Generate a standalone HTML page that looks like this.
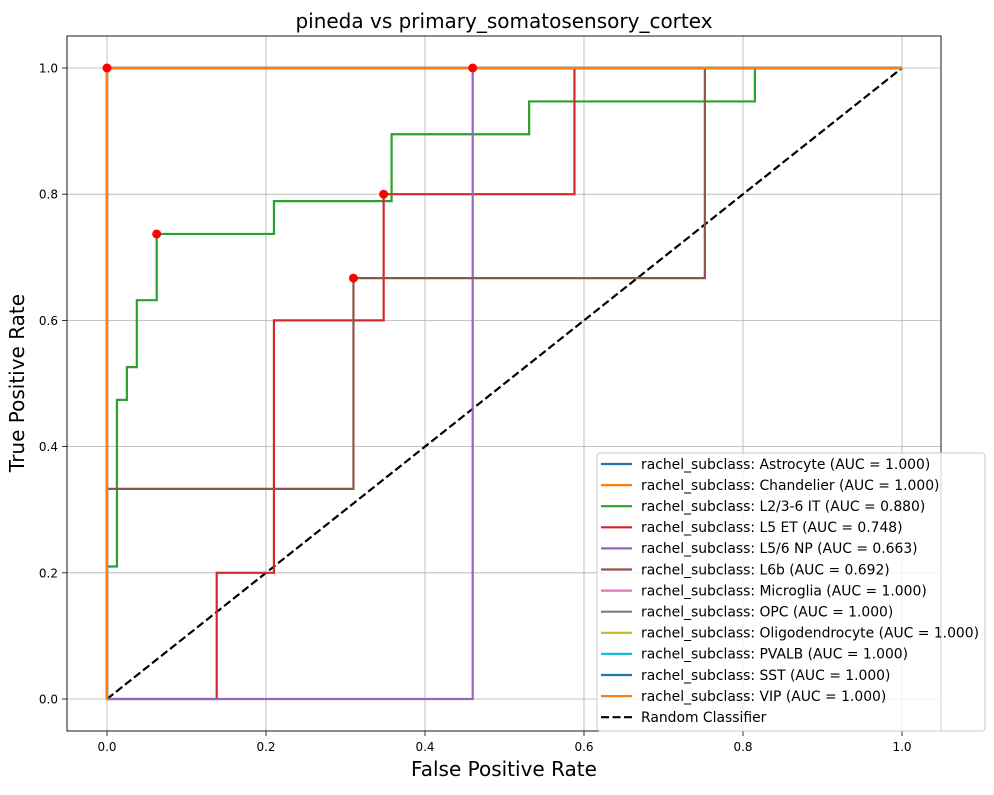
<!DOCTYPE html>
<html><head><meta charset="utf-8"><style>
body{margin:0;background:#fff;}
svg text{font-family:"DejaVu Sans","Liberation Sans",sans-serif;}
</style></head><body>
<svg id="chart" width="994" height="790" xmlns="http://www.w3.org/2000/svg"></svg>
<script>
const seriesNames=["Astrocyte","Chandelier","L2/3-6 IT","L5 ET","L5/6 NP","L6b","Microglia","OPC","Oligodendrocyte","PVALB","SST","VIP"];
const seriesAUC=["1.000","1.000","0.880","0.748","0.663","0.692","1.000","1.000","1.000","1.000","1.000","1.000"];
const seriesColors=["#1f77b4","#ff7f0e","#2ca02c","#d62728","#9467bd","#8c564b","#e377c2","#7f7f7f","#bcbd22","#17becf","#1f77b4","#ff7f0e"];
const perfectFpr=[0,0,1];
const perfectTpr=[0,1,1];
const l23Fpr=[0,0,0.0125,0.0125,0.025,0.025,0.0375,0.0375,0.0625,0.0625,0.21,0.21,0.358,0.358,0.531,0.531,0.815,0.815,1];
const l23Tpr=[0,0.21,0.21,0.474,0.474,0.526,0.526,0.632,0.632,0.737,0.737,0.789,0.789,0.895,0.895,0.947,0.947,1,1];
const l5etFpr=[0,0.138,0.138,0.21,0.21,0.348,0.348,0.588,0.588,1];
const l5etTpr=[0,0,0.2,0.2,0.6,0.6,0.8,0.8,1,1];
const npFpr=[0,0.46,0.46,1];
const npTpr=[0,0,1,1];
const l6bFpr=[0,0,0.31,0.31,0.752,0.752,1];
const l6bTpr=[0,0.333,0.333,0.667,0.667,1,1];
const markerFpr=[0,0.46,0.0625,0.348,0.31];
const markerTpr=[1,1,0.737,0.8,0.667];
const xTicks=[0,0.2,0.4,0.6,0.8,1.0];
const yTicks=[0,0.2,0.4,0.6,0.8,1.0];
const xTickLabels=["0.0","0.2","0.4","0.6","0.8","1.0"];
const yTickLabels=["0.0","0.2","0.4","0.6","0.8","1.0"];

const NS="http://www.w3.org/2000/svg";
const svg=document.getElementById('chart');
const L=67,R=941,T=36,B=731;
const X=v=>107+v*795, Y=v=>699-v*631;
function mk(tag,at,parent){const e=document.createElementNS(NS,tag);for(const k in at)e.setAttribute(k,at[k]);(parent||svg).appendChild(e);return e;}
xTicks.forEach((v,i)=>{
 const g=mk('line',{x1:X(v),x2:X(v),y1:T,y2:B,stroke:'#b0b0b0','stroke-width':0.8});
 
 
 const t=mk('line',{x1:X(v),x2:X(v),y1:B,y2:B+5,stroke:'#000','stroke-width':0.8});
 
 
 const tx=mk('text',{x:X(v),y:B+20,'font-size':12,'text-anchor':'middle'});tx.textContent=xTickLabels[i];
 
 
});
yTicks.forEach((v,i)=>{
 const g=mk('line',{x1:L,x2:R,y1:Y(v),y2:Y(v),stroke:'#b0b0b0','stroke-width':0.8});
 
 
 const t=mk('line',{x1:L-5,x2:L,y1:Y(v),y2:Y(v),stroke:'#000','stroke-width':0.8});
 
 
 const tx=mk('text',{x:L-9,y:Y(v)+4.5,'font-size':12,'text-anchor':'end'});tx.textContent=yTickLabels[i];
 
 
});
const rc=mk('line',{x1:X(0),y1:Y(0),x2:X(1),y2:Y(1),stroke:'#000','stroke-width':2.2,'stroke-dasharray':'8,3.5'});


const dataF=[perfectFpr,perfectFpr,l23Fpr,l5etFpr,npFpr,l6bFpr,perfectFpr,perfectFpr,perfectFpr,perfectFpr,perfectFpr,perfectFpr];
const dataT=[perfectTpr,perfectTpr,l23Tpr,l5etTpr,npTpr,l6bTpr,perfectTpr,perfectTpr,perfectTpr,perfectTpr,perfectTpr,perfectTpr];
dataF.forEach((f,i)=>{
 const pts=f.map((v,j)=>X(v)+','+Y(dataT[i][j])).join(' ');
 const p=mk('polyline',{points:pts,fill:'none',stroke:seriesColors[i],'stroke-width':2.2,'stroke-linejoin':'miter'});
 
 
});
markerFpr.forEach((v,i)=>{
 const c=mk('circle',{cx:X(v),cy:Y(markerTpr[i]),r:4.5,fill:'#ff0000'});
 
 
});
const fr=mk('rect',{x:L,y:T,width:R-L,height:B-T,fill:'none',stroke:'#000','stroke-width':0.9});


const ti=mk('text',{x:(L+R)/2,y:28,'font-size':20,'text-anchor':'middle'});ti.textContent='pineda vs primary_somatosensory_cortex';


const xl=mk('text',{x:(L+R)/2,y:776,'font-size':20,'text-anchor':'middle'});xl.textContent='False Positive Rate';


const yl=mk('text',{x:0,y:0,'font-size':20,'text-anchor':'middle',transform:'translate(24,383) rotate(-90)'});yl.textContent='True Positive Rate';


const lg=mk('g',{});


const lb=mk('rect',{x:597,y:453,width:388,height:278,rx:3,fill:'#fff','fill-opacity':0.8,stroke:'#ccc','stroke-width':1},lg);


const labels=seriesNames.map((n,i)=>'rachel_subclass: '+n+' (AUC = '+seriesAUC[i]+')').concat(['Random Classifier']);
labels.forEach((s,i)=>{
 const y=464+i*21.1;
 const ln=mk('line',{x1:601,x2:632,y1:y,y2:y,stroke:i<12?seriesColors[i]:'#000','stroke-width':2.2,'stroke-dasharray':i<12?'none':'8,3.5'},lg);
 
 
 const t=mk('text',{x:641,y:y+4.8,'font-size':13.9},lg);t.textContent=s;
 
 
});
</script>
</body></html>
